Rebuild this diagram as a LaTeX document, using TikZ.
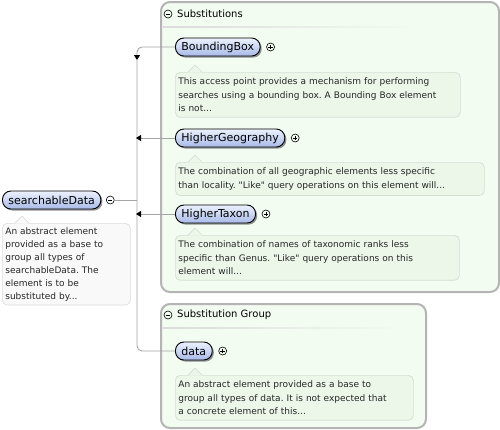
\documentclass[tikz,border=0pt]{standalone}
\usepackage{fontspec}
\setmainfont{DejaVu Sans}[Ligatures=TeXOff]
\usetikzlibrary{shadows,arrows.meta}
\definecolor{boxfill}{RGB}{242,252,240}
\definecolor{boxline}{RGB}{180,180,180}
\definecolor{descfill}{RGB}{236,247,234}
\definecolor{descline}{RGB}{212,222,210}
\definecolor{sdfill}{RGB}{249,249,249}
\definecolor{sdline}{RGB}{220,220,220}
\definecolor{ntop}{RGB}{236,241,252}
\definecolor{nbot}{RGB}{168,186,232}
\definecolor{conn}{RGB}{165,165,165}
\newcommand\mynotch[3]{% node, fill, line
  \fill[#2] ([xshift=13pt,yshift=-0.6pt]#1.north west) -- ([xshift=20pt,yshift=7pt]#1.north west) -- ([xshift=27pt,yshift=-0.6pt]#1.north west) -- cycle;
  \draw[#3, line width=0.7pt] ([xshift=13pt]#1.north west) -- ([xshift=20pt,yshift=7pt]#1.north west) -- ([xshift=27pt]#1.north west);}
\frenchspacing
\begin{document}
\begin{tikzpicture}[x=1pt,y=-1pt,
  container/.style={draw=boxline, line width=2pt, fill=boxfill, rounded corners=9pt, anchor=north west, inner sep=0pt},
  elem/.style={draw=black, line width=0.9pt, rounded corners=8.5pt, top color=ntop, bottom color=nbot,
    minimum height=18pt, inner xsep=6pt, inner ysep=0pt, font=\fontsize{11}{12}\selectfont, anchor=west,
    drop shadow={shadow xshift=1.6pt, shadow yshift=-1.6pt, fill=black!70, opacity=0.6}},
  desc/.style={draw=descline, line width=0.7pt, fill=descfill, rounded corners=5pt, anchor=north west, align=left,
    inner xsep=3pt, inner ysep=5.5pt, font=\fontsize{9}{13.5}\selectfont, text=black!85},
  sdesc/.style={desc, draw=sdline, fill=sdfill, inner ysep=4pt, font=\fontsize{9}{13}\selectfont},
  tog/.style={circle, draw=black, line width=0.6pt, minimum size=8pt, inner sep=0pt},
  minusc/.style={tog, path picture={\draw[line width=0.6pt] ([xshift=-2.2pt]path picture bounding box.center) -- ([xshift=2.2pt]path picture bounding box.center);}},
  plusc/.style={tog, path picture={\draw[line width=0.6pt] ([xshift=-2.2pt]path picture bounding box.center) -- ([xshift=2.2pt]path picture bounding box.center);
      \draw[line width=0.6pt] ([yshift=-2.2pt]path picture bounding box.center) -- ([yshift=2.2pt]path picture bounding box.center);}},
  head/.style={anchor=west, inner sep=2pt, font=\fontsize{10}{12}\selectfont},
  cl/.style={draw=conn, line width=0.9pt},
  tip/.style={-{Triangle[length=5pt,width=6pt,color=black]}}
]
\useasboundingbox (0,0) rectangle (500,429);
% containers
\node[container, minimum width=338pt, minimum height=290pt] (subs) at (160,1) {};
\node[container, minimum width=265pt, minimum height=124pt] (grp) at (160,303) {};
\shade[left color=black!14, right color=boxfill] (163,26.5) rectangle (415,27.6);
\shade[left color=black!14, right color=boxfill] (163,327.5) rectangle (400,328.6);
\node[minusc] (m1) at (168,14) {};
\node[head] (h1) at (175,14) {Substitutions};
\node[minusc] (m2) at (168,315) {};
\node[head] (h2) at (175,315) {Substitution Group};
% coordinates for connectors
\coordinate (ctop) at (137,47);
\coordinate (carr) at (137,60);
\coordinate (cbot) at (137,351);
\coordinate (chg) at (136,138);
\coordinate (cht) at (136,214);
\coordinate (csd) at (137,200);
% elements
\node[elem] (bb) at (175,47) {BoundingBox};
\node[elem] (hg) at (175,138) {HigherGeography};
\node[elem] (ht) at (175,214) {HigherTaxon};
\node[elem] (dat) at (175,351) {data};
\node[elem] (sd) at (2,200) {searchableData};
\node[plusc] (pbb) at ([xshift=10pt]bb.east) {};
\node[plusc] (phg) at ([xshift=10pt]hg.east) {};
\node[plusc] (pht) at ([xshift=10pt]ht.east) {};
\node[plusc] (pdat) at ([xshift=10pt]dat.east) {};
\node[minusc] (msd) at ([xshift=9pt]sd.east) {};
% connectors
\draw[cl, rounded corners=5pt, tip] (bb.west) -- (ctop) -- (carr);
\draw[cl, rounded corners=5pt] (carr) -- (cbot) -- (dat.west);
\draw[cl, tip] (hg.west) -- (chg);
\draw[cl, tip] (ht.west) -- (cht);
\draw[cl] (msd.east) -- (csd);
% descriptions
\node[desc, text width=279pt] (dbb) at (175,72) {This access point provides a mechanism for performing\\searches using a bounding box. A Bounding Box element\\is not...};
\mynotch{dbb}{descfill}{descline}
\node[desc, text width=303pt] (dhg) at (175,162) {The combination of all geographic elements less specific\\than locality. "Like" query operations on this element will...};
\mynotch{dhg}{descfill}{descline}
\node[desc, text width=278pt] (dht) at (175,235) {The combination of names of taxonomic ranks less\\specific than Genus. "Like" query operations on this\\element will...};
\mynotch{dht}{descfill}{descline}
\node[desc, text width=232pt] (ddat) at (175,375) {An abstract element provided as a base to\\group all types of data. It is not expected that\\a concrete element of this...};
\mynotch{ddat}{descfill}{descline}
\node[sdesc, text width=122pt] (dsd) at (2,223) {An abstract element\\provided as a base to\\group all types of\\searchableData. The\\element is to be\\substituted by...};
\mynotch{dsd}{sdfill}{sdline}
\end{tikzpicture}
\end{document}
